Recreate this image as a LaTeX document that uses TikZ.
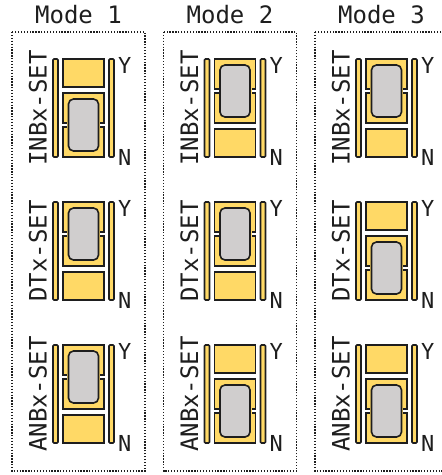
\documentclass[tikz,border=0pt]{standalone}
\usepackage{fontspec}
\newfontfamily\jfont{DejaVu Sans Mono}
\definecolor{cpad}{HTML}{FFD966}
\definecolor{cshunt}{HTML}{D0CECE}
\definecolor{cink}{HTML}{1E1E1E}
\tikzset{
  padbox/.style={fill=cpad,draw=cink,line width=1.6pt},
  shunt/.style={fill=cshunt,draw=cink,line width=1.6pt,rounded corners=5pt},
  modebox/.style={draw=cink,line width=1.8pt,dash pattern=on 1.3pt off 1.6pt},
  jtxt/.style={inner sep=0pt,text=cink,font=\jfont\fontsize{24}{24}\selectfont},
  yntxt/.style={inner sep=0pt,text=cink,font=\jfont\fontsize{22}{22}\selectfont},
}

\begin{document}
\begin{tikzpicture}[x=1pt,y=-1pt]
\useasboundingbox (0,0) rectangle (442,475);
\clip (0,0) rectangle (442,475);
% one column per mode: 0 = jumper on Y, 1 = jumper on N
\foreach \col/\pa/\pb/\pc in {1/1/0/0,2/0/0/1,3/0/1/1}{
  \pgfmathsetmacro{\bx}{12+(\col-1)*151.5}
  \begin{scope}[shift={(\bx,0)}]
    \draw[modebox] (0,32) rectangle (133,471);
    \node[jtxt,anchor=base] (mode\col) at (66.5,23.3) {Mode \col};
    \foreach \row/\lab/\pos in {0/INBx-SET/\pa,1/DTx-SET/\pb,2/ANBx-SET/\pc}{
      \pgfmathsetmacro{\by}{59+143*\row}
      \pgfmathsetmacro{\hy}{34*\pos}
      \pgfmathsetmacro{\fy}{70*(1-\pos)}
      \begin{scope}[shift={(0,\by)}]
        \draw[padbox,rounded corners=1pt] (41,0) rectangle (46,98);
        \draw[padbox,rounded corners=1pt] (97,0) rectangle (102,98);
        \draw[padbox] (51,\fy) rectangle (92,\fy+28);
        \draw[padbox] (51,\hy) rectangle (92,\hy+30);
        \draw[padbox] (51,\hy+34) rectangle (92,\hy+64);
        \fill[cpad] (55,\hy+29) rectangle (88,\hy+35);
        \draw[shunt] (56.5,\hy+6) rectangle (86.5,\hy+58);
        \node[jtxt,rotate=90] (lbl-\col-\row) at (26,49) {\lab};
        \node[yntxt,anchor=base west] (y-\col-\row) at (106,14.5) {Y};
        \node[yntxt,anchor=base west] (n-\col-\row) at (106,106.5) {N};
      \end{scope}
    }
  \end{scope}
}
\end{tikzpicture}
\end{document}
